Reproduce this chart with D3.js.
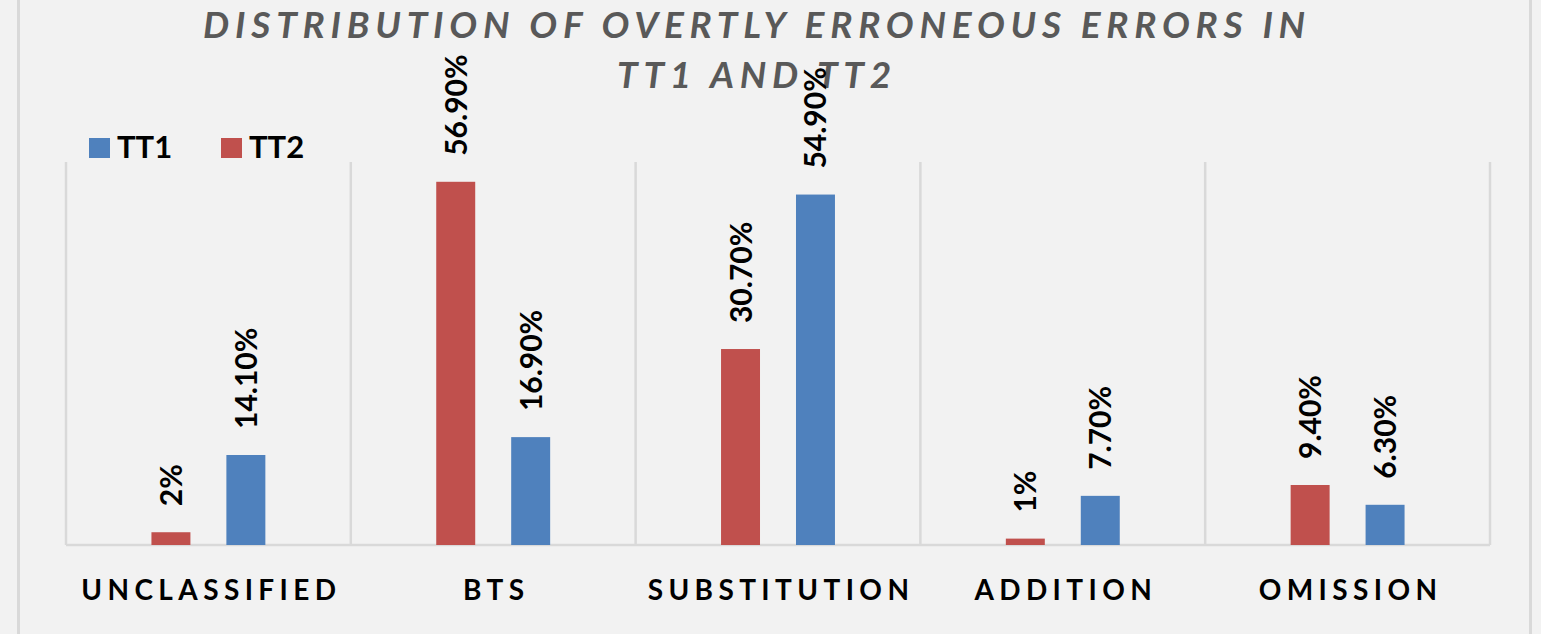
<!DOCTYPE html>
<html>
<head>
<meta charset="utf-8">
<script src="https://cdn.jsdelivr.net/npm/d3@7"></script>
<style>
  html, body { margin: 0; padding: 0; background: #f2f2f2; }
  svg { display: block; font-family: Lato, "Open Sans", sans-serif; }
</style>
</head>
<body>
<div id="chart"></div>
<script>
// data
var categories = ["UNCLASSIFIED", "BTS", "SUBSTITUTION", "ADDITION", "OMISSION"];
var seriesNames = ["TT2", "TT1"];
var tt1Values = [14.1, 16.9, 54.9, 7.7, 6.3];
var tt2Values = [2, 56.9, 30.7, 1, 9.4];
var tt1Labels = ["14.10%", "16.90%", "54.90%", "7.70%", "6.30%"];
var tt2Labels = ["2%", "56.90%", "30.70%", "1%", "9.40%"];
var titleLines = ["DISTRIBUTION OF OVERTLY ERRONEOUS ERRORS IN", "TT1 AND TT2"];

var colors = {TT1: "#4f81bd", TT2: "#c0504d"};

var W = 1541, H = 634;
var margin = {top: 162, left: 66, right: 51, bottom: 89};
var width = W - margin.left - margin.right,
    height = H - margin.top - margin.bottom;

var svg = d3.select("#chart").append("svg")
    .attr("width", W)
    .attr("height", H);

svg.append("rect").attr("width", W).attr("height", H).attr("fill", "#f2f2f2");

// outer chart border (left/right visible)
svg.append("line").attr("x1", 18.5).attr("x2", 18.5).attr("y1", 0).attr("y2", H)
    .attr("stroke", "#d9d9d9").attr("stroke-width", 3);
svg.append("line").attr("x1", 1530.5).attr("x2", 1530.5).attr("y1", 0).attr("y2", H)
    .attr("stroke", "#d9d9d9").attr("stroke-width", 3);

// title
svg.append("g").selectAll("text")
    .data(titleLines)
  .enter().append("text")
    .attr("x", 757)
    .attr("y", function(d, i) { return 38 + i * 50; })
    .attr("text-anchor", "middle")
    .attr("fill", "#595959")
    .style("font-size", "37px")
    .style("font-weight", "bold")
    .style("font-style", "italic")
    .style("letter-spacing", "5.8px")
    .text(function(d) { return d; });

var g = svg.append("g")
    .attr("transform", "translate(" + margin.left + "," + margin.top + ")");

var x0 = d3.scaleBand().domain(categories).range([0, width]);
var x1 = d3.scaleBand().domain(seriesNames).range([0, x0.bandwidth()])
    .paddingInner(0.48).paddingOuter(1.14);
var y = d3.scaleLinear().domain([0, 60]).range([height, 0]);

// vertical separators
var edges = categories.map(function(c) { return x0(c); }).concat([width]);
g.selectAll(".sep")
    .data(edges)
  .enter().append("line")
    .attr("class", "sep")
    .attr("x1", function(d) { return d; })
    .attr("x2", function(d) { return d; })
    .attr("y1", 0)
    .attr("y2", height)
    .attr("stroke", "#d9d9d9")
    .attr("stroke-width", 2.5);

// baseline
g.append("line")
    .attr("x1", 0).attr("x2", width)
    .attr("y1", height).attr("y2", height)
    .attr("stroke", "#d9d9d9")
    .attr("stroke-width", 2.5);

var rows = categories.map(function(c, i) {
  return {cat: c, bars: [
    {s: "TT2", v: tt2Values[i], label: tt2Labels[i]},
    {s: "TT1", v: tt1Values[i], label: tt1Labels[i]}
  ]};
});

var groups = g.selectAll(".grp")
    .data(rows)
  .enter().append("g")
    .attr("class", "grp")
    .attr("transform", function(d) { return "translate(" + x0(d.cat) + ",0)"; });

groups.selectAll("rect")
    .data(function(d) { return d.bars; })
  .enter().append("rect")
    .attr("x", function(d) { return x1(d.s); })
    .attr("width", x1.bandwidth())
    .attr("y", function(d) { return y(d.v); })
    .attr("height", function(d) { return height - y(d.v); })
    .attr("fill", function(d) { return colors[d.s]; });

groups.selectAll(".lbl")
    .data(function(d) { return d.bars; })
  .enter().append("text")
    .attr("class", "lbl")
    .attr("transform", function(d) {
      return "translate(" + (x1(d.s) + x1.bandwidth() / 2 + 11) + "," + (y(d.v) - 26) + ") rotate(-90)";
    })
    .attr("text-anchor", "start")
    .style("font-size", "30px")
    .style("font-weight", "bold")
    .attr("fill", "#000")
    .text(function(d) { return d.label; });

// category axis labels
g.selectAll(".cat")
    .data(categories)
  .enter().append("text")
    .attr("class", "cat")
    .attr("x", function(d) { return x0(d) + x0.bandwidth() / 2 + 3; })
    .attr("y", height + 55)
    .attr("text-anchor", "middle")
    .style("font-size", "28px")
    .style("font-weight", "bold")
    .style("letter-spacing", "5.4px")
    .attr("fill", "#000")
    .text(function(d) { return d; });

// legend
var legendItems = ["TT1", "TT2"];
var legend = svg.append("g").selectAll(".leg")
    .data(legendItems)
  .enter().append("g")
    .attr("class", "leg")
    .attr("transform", function(d, i) { return "translate(" + (89 + i * 132) + ",138)"; });
legend.append("rect")
    .attr("width", 21).attr("height", 20)
    .attr("fill", function(d) { return colors[d]; });
legend.append("text")
    .attr("x", 28)
    .attr("y", 20)
    .style("font-size", "31px")
    .style("font-weight", "bold")
    .attr("fill", "#000")
    .text(function(d) { return d; });
</script>
</body>
</html>
